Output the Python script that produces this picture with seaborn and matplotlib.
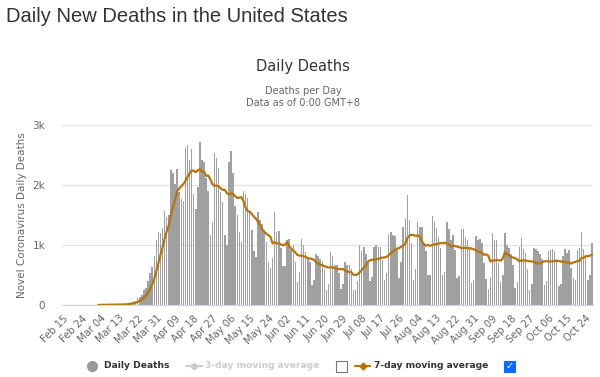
import numpy as np
import pandas as pd
import seaborn as sns
import matplotlib.pyplot as plt
from matplotlib.lines import Line2D
from matplotlib.patches import Rectangle

# daily deaths, one list per month (Feb 15 - Oct 27, 2020)
feb = [0] * 14 + [1]
mar = [1, 4, 1, 4, 1, 2, 3, 4, 4, 5, 8, 7, 10, 8, 10, 18, 23, 34, 47, 59, 64,
       116, 140, 171, 255, 287, 393, 530, 640, 810, 1080]
apr = [1220, 1200, 1280, 1560, 1470, 1500, 2250, 2200, 2010, 2270, 1880, 1760,
       1740, 2620, 2670, 2420, 2600, 1850, 1600, 1970, 2720, 2420, 2380, 2120,
       1900, 1170, 1390, 2530, 2450, 2280]
may = [1890, 1720, 1170, 1000, 2390, 2570, 2200, 1650, 1500, 1220, 1050, 1900,
       1850, 1780, 1580, 1250, 900, 800, 1550, 1420, 1350, 1250, 1050, 720, 620,
       780, 1550, 1220, 1230, 950, 650]
jun = [650, 1080, 1100, 920, 1000, 720, 380, 550, 1100, 1000, 880, 800, 720, 330,
       420, 850, 820, 770, 730, 600, 250, 350, 880, 820, 670, 670, 530, 270, 350, 720]
jul = [670, 670, 600, 250, 250, 400, 1000, 900, 970, 850, 700, 400, 470, 970, 1000,
       970, 970, 750, 420, 530, 1180, 1220, 1170, 1150, 920, 450, 720, 1300, 1450,
       1830, 1420]
aug = [1030, 420, 600, 1380, 1300, 1300, 1030, 900, 500, 500, 1480, 1380, 1280,
       1130, 950, 500, 550, 1380, 1270, 1080, 1170, 920, 450, 480, 1270, 1270, 1130,
       1080, 970, 370, 420]
sep = [1150, 1080, 1100, 1030, 700, 430, 270, 470, 1200, 1080, 1080, 700, 380, 500,
       1200, 1000, 950, 850, 670, 280, 380, 970, 1110, 930, 860, 600, 250, 350, 950, 930]
oct_ = [900, 850, 770, 330, 400, 900, 920, 930, 900, 770, 320, 350, 820, 930, 870,
        920, 620, 450, 420, 920, 950, 1220, 930, 820, 420, 500, 1030]

start_date = "2020-02-15"
ma_start = "2020-03-03"      # the 7-day line starts here on the chart
tick_step = 9
y_ticks = [0, 1000, 2000, 3000]
y_tick_labels = ["0", "1k", "2k", "3k"]

daily_deaths = feb + mar + apr + may + jun + jul + aug + sep + oct_
dates = pd.date_range(start_date, periods=len(daily_deaths), freq="D")

df = pd.DataFrame({"date": dates, "deaths": daily_deaths})
df["day"] = np.arange(len(df))
df["ma7"] = df["deaths"].rolling(7).mean()
df.loc[df["date"] < ma_start, "ma7"] = np.nan

sns.set_style("white")
plt.rcParams["font.family"] = ["DejaVu Sans"]

fig = plt.figure(figsize=(6, 3.77), dpi=100)
ax = fig.add_axes([62 / 600, 72 / 377, 531 / 600, 180 / 377])

sns.barplot(data=df, x="day", y="deaths", native_scale=True, errorbar=None,
            color="#a0a0a0", saturation=1, width=0.72, linewidth=0, ax=ax)
sns.lineplot(data=df, x="day", y="ma7", color="#b8740c", linewidth=1.6, ax=ax)

ax.set_xlim(-0.5, len(df) - 0.5)
ax.set_ylim(0, 3000)
ax.set_yticks(y_ticks)
ax.set_yticklabels(y_tick_labels, fontsize=7.5, color="#666666")
ax.set_xticks(df["day"][::tick_step])
ax.set_xticklabels(df["date"][::tick_step].dt.strftime("%b %d"), rotation=45,
                   ha="right", rotation_mode="anchor", fontsize=7.2, color="#666666")
ax.tick_params(axis="both", length=0)
ax.tick_params(axis="y", pad=12)
ax.tick_params(axis="x", pad=6)
ax.yaxis.grid(True, color="#e6e6e6", linewidth=1)
ax.set_axisbelow(True)
for s in ["top", "right", "left"]:
    ax.spines[s].set_visible(False)
ax.spines["bottom"].set_color("#ccd6eb")
ax.set_xlabel("")
ax.set_ylabel("Novel Coronavirus Daily Deaths", fontsize=7.5, color="#666666")
ax.yaxis.set_label_coords(-35 / 531, 0.5)

# titles
fig.text(6 / 600, 1 - 17 / 377, "Daily New Deaths in the United States", fontsize=14.5,
         color="#333333", family="Liberation Sans", va="center")
fig.text(0.505, 1 - 67 / 377, "Daily Deaths", fontsize=10.5, color="#333333",
         ha="center", va="center")
fig.text(0.505, 1 - 91 / 377, "Deaths per Day", fontsize=7, color="#666666",
         ha="center", va="center")
fig.text(0.505, 1 - 103 / 377, "Data as of 0:00 GMT+8", fontsize=7, color="#666666",
         ha="center", va="center")

# legend (drawn by hand, with the two checkboxes)
yl = 1 - 366 / 377
tf = fig.transFigure
leg_font = 6.6
fig.add_artist(Line2D([92 / 600], [yl], marker="o", markersize=7, color="#999999",
                      linestyle="none", transform=tf))
fig.text(104 / 600, yl, "Daily Deaths", fontsize=leg_font, fontweight="bold",
         color="#333333", va="center")
fig.add_artist(Line2D([186 / 600, 202 / 600], [yl, yl], color="#cccccc", lw=1.5,
                      transform=tf))
fig.add_artist(Line2D([194 / 600], [yl], marker="o", markersize=4, color="#cccccc",
                      transform=tf))
fig.text(205 / 600, yl, "3-day moving average", fontsize=leg_font, fontweight="bold",
         color="#cccccc", va="center")
fig.add_artist(Rectangle((336 / 600, yl - 5.5 / 377), 11 / 600, 11 / 377,
                         facecolor="white", edgecolor="#767676", lw=0.8, transform=tf))
fig.add_artist(Line2D([355 / 600, 370 / 600], [yl, yl], color="#b8740c", lw=1.5,
                      transform=tf))
fig.add_artist(Line2D([362.5 / 600], [yl], marker="D", markersize=3.5, color="#b8740c",
                      transform=tf))
fig.text(374 / 600, yl, "7-day moving average", fontsize=leg_font, fontweight="bold",
         color="#333333", va="center")
fig.add_artist(Rectangle((504 / 600, yl - 5.5 / 377), 11 / 600, 11 / 377,
                         facecolor="#0a6cff", edgecolor="#0a6cff", lw=0.8, transform=tf))
fig.text(509.5 / 600, yl, "\u2713", fontsize=7, color="white", fontweight="bold",
         ha="center", va="center")

fig.savefig("out.png", dpi=100)
